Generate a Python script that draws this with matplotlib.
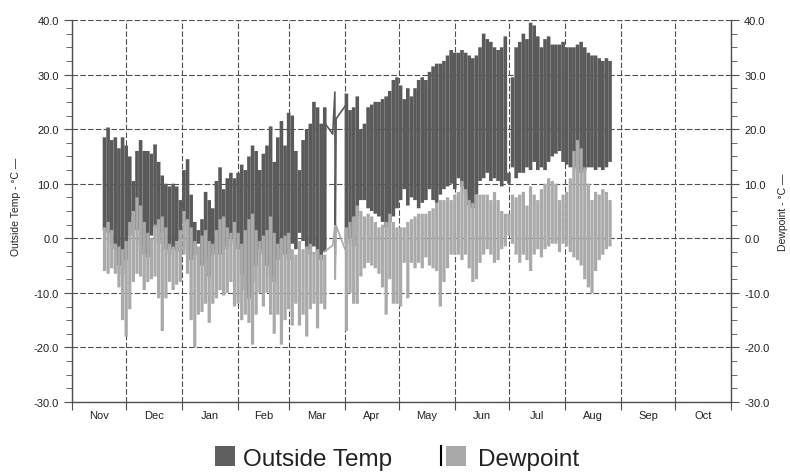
import numpy as np
import matplotlib
matplotlib.use("Agg")
import matplotlib.pyplot as plt
from matplotlib.patches import Rectangle
from matplotlib.lines import Line2D
from matplotlib.ticker import MultipleLocator, FormatStrFormatter

plt.rcParams['font.family'] = ['Liberation Sans', 'DejaVu Sans']

# x = days since 1 Nov, one min/max reading every 2 days
months = ["Nov", "Dec", "Jan", "Feb", "Mar", "Apr", "May", "Jun", "Jul", "Aug", "Sep", "Oct"]
month_len = [30, 31, 31, 28, 31, 30, 31, 30, 31, 31, 30, 31]
days = np.arange(17, 298, 2)

nan = np.nan
temp_max = [18.5, 20.3, 18.0, 18.5, 16.5, 18.5, 17.0, 15.0, 10.5, 16.0,
            18.0, 16.0, 16.0, 15.5, 17.2, 14.0, 11.5, 10.0, 9.5, 10.0,
            9.5, 7.0, 12.5, 14.5, 8.0, 3.0, 1.5, 3.5, 8.5, 7.0,
            5.5, 10.5, 13.0, 9.0, 11.0, 12.0,
            11, 12, 13.5, 12.5, 15, 17, 16, 12.5, 15.5, 17,
            20.5, 14, 18.5, 21.5, 17, 23, 22.5, 16, 12.5, 18,
            20, 21, 25, 24, 21, 24,
            nan, nan, nan, nan, nan,
            26.5, 23.5, 24,
            26, 20, 21, 24, 24.5, 25, 25, 25.5, 26, 27,
            29, 29.5, 28, 25.5, 27.5, 26, 27.5, 29, 29.5, 29,
            30.5, 31.5, 32, 32, 32.5, 33.5, 34.5, 34, 34, 34.5,
            34, 33.5, 33, 33.5, 35, 37.5,
            36.5, 36, 35, 34.5, 35, 37, 12, 29.5, 35, 36,
            37.5, 36.5, 39.5, 39, 37, 35, 36.5, 37, 35.5, 35.5,
            35.5, 36, 35, 35, 35, 35.5, 36, 35, 34, 33.5,
            33.5, 33, 32.5, 33, 32.5]
temp_min = [1.5, 1.0, -1.0, -2.0, -5.0, -6.5, -4.0, 0.5, 4.0, 1.5,
            -1.5, -3.0, -3.5, 0.5, 2.0, -1.0, 1.0, -2.0, -3.0, -2.0,
            -2.5, 0.0, 3.0, -2.0, -4.0, -3.0, -1.0, -5.0, -3.5, -7.0,
            -3.0, -2.0, -3.0, -2.0, -1.5, 0.0,
            -1, -2, -6.5, -9.5, -11, -8, -5, -2, -3, -5,
            -7, -8, -4, -2, -3, -4, -1, -2, 1, -0.5,
            -2, -3, -1.5, -3, -4, -2.5,
            nan, nan, nan, nan, nan,
            -1, 0, -1.5,
            4, 7, 7, 5.5, 5, 4.5, 4, 3, 2, 3,
            4, 5.5, 7, 9, 6, 7.5, 7, 5.5, 6.5, 7,
            9, 7, 6.5, 8, 9, 9.5, 10, 9, 11, 9.5,
            8, 6, 5.5, 8, 10.5, 11,
            12, 10.5, 11, 10.5, 9.5, 10.5, 10, 13, 11, 12,
            12, 13, 12.5, 14, 12.5, 13, 12.5, 14, 15, 15.5,
            16, 14, 13.5, 13, 13, 12.5, 12, 12.5, 13, 13,
            12.5, 13, 12.5, 13, 14]
dew_max = [2.0, 3.0, 1.5, -1.0, -1.5, -2.0, -0.5, 3.0, 5.0, 7.5,
           6.0, 3.0, 1.0, 0.0, 2.5, 3.5, 4.0, 2.0, -1.0, -1.5,
           -0.5, 1.5, 5.0, 3.5, 2.0, -0.5, -1.5, 0.5, 1.5, -0.5,
           -1.0, 1.5, 3.5, 4.0, 2.0, 1.0,
           3, 1, -1, 1.5, 3.5, 4.5, 1.5, -0.5, 0.5, 1.5,
           4, 1, -1, 0, 0.5, 1, -2, -3, -0.5, -2,
           -1.5, -1, -2.5, -2, -3, -3,
           nan, nan, nan, nan, nan,
           2, 3, 4,
           6, 5, 4, 4.5, 4, 3, 2, 2.5, 3, 4.5,
           3, 2, 2, 2, 3, 3.5, 4, 4.5, 4.5, 4.5,
           5, 5.5, 6.5, 7, 7, 7.5, 7, 8, 8.5, 10.5,
           9, 7, 6.5, 8, 8, 8,
           8, 7, 8.5, 7, 5, 4.5, 4.5, 8, 7.5, 8,
           8.5, 6, 9.5, 8, 7, 9, 10, 11, 10.5, 10,
           7, 8, 8.5, 11, 16, 18, 16.5, 13, 10, 7,
           8.5, 8, 9, 8.5, 7]
dew_min = [-6.0, -6.5, -5.5, -6.5, -9.0, -15.0, -18.0, -13.0, -8.0, -6.5,
           -7.0, -9.5, -8.0, -7.5, -7.0, -11.0, -17.0, -11.0, -8.0, -9.5,
           -8.5, -8.0, -3.0, -6.5, -15.0, -20.0, -14.0, -13.5, -12.0, -15.5,
           -12.0, -11.0, -9.5, -10.5, -10.0, -8.0,
           -12.5, -12, -15, -14, -15.5, -19.5, -14, -10, -12.5, -10,
           -14, -17.5, -14, -19.5, -15, -13, -16, -12, -16, -14,
           -18, -13, -12, -16.5, -12, -13,
           nan, nan, nan, nan, nan,
           -17, -10, -12,
           -12, -7, -5.5, -4.5, -5, -5.5, -6.5, -9, -14, -7.5,
           -12, -12, -12.5, -4.5, -11, -4.5, -5.5, -4.5, -5.5, -3.5,
           -5, -5.5, -6, -12.5, -8, -5.5, -3, -3, -3, -4,
           -3, -5.5, -8, -7.5, -4.5, -3,
           -2, -3, -4.5, -4, -2, -1.5, 0.5, -1, -3, -4.5,
           -3, -4, -6, -3, -2, -3.5, -2, -1.5, -1, -1,
           -2.5, -1, -1.5, -2.5, -3.5, -4, -5, -7.5, -9, -10,
           -6, -4, -3, -2, -1.5]

# readings across the mid-March outage
gap_days = [139.6, 144.4, 145.6, 145.8, 146.3, 151.2]
gap_temp = [21.3, 19.1, 26.8, -3.0, 21.9, 24.2]
gap_dew = [-2.5, -1.3, 2.3, -7.5, 2.3, -2.0]

TEMP_COLOR = "#5a5a5a"
DEW_COLOR = "#aaaaaa"
GRID_COLOR = "#505050"
TEXT_COLOR = "#222222"

fig = plt.figure(figsize=(7.9, 4.77), dpi=100)
ax = fig.add_axes([72 / 790, 1 - 403 / 477, 659 / 790, 382 / 477])

tmax, tmin = np.array(temp_max), np.array(temp_min)
dmax, dmin = np.array(dew_max), np.array(dew_min)

# min-max columns; the dewpoint ones are a bit narrower so temp shows through
tbars = ax.bar(days, tmax - tmin, bottom=tmin, width=2.0, color=TEMP_COLOR,
               linewidth=0, align="edge", zorder=3)
ax.plot(gap_days, gap_temp, color=TEMP_COLOR, lw=1.2, zorder=3)
dbars = ax.bar(days + 0.1, dmax - dmin, bottom=dmin, width=1.8, color=DEW_COLOR,
               linewidth=0, align="edge", zorder=4)
ax.plot(gap_days, gap_dew, color=DEW_COLOR, lw=1.2, zorder=4)
for b in list(tbars) + list(dbars):
    b.set_snap(False)

bounds = np.concatenate([[0], np.cumsum(month_len)])
centers = (bounds[:-1] + bounds[1:]) / 2
ax.set_xlim(0, 365)
ax.set_ylim(-30, 40)
ax.set_xticks(bounds)
ax.set_xticklabels([])
ax.set_xticks(centers, minor=True)
ax.set_xticklabels(months, minor=True)
ax.tick_params(axis="x", which="major", direction="out", length=6, color=GRID_COLOR)
ax.tick_params(axis="x", which="minor", length=0, labelsize=8, pad=6, labelcolor=TEXT_COLOR)

ax.yaxis.set_major_locator(MultipleLocator(10))
ax.yaxis.set_minor_locator(MultipleLocator(2.5))
ax.yaxis.set_major_formatter(FormatStrFormatter("%.1f"))
ax.tick_params(axis="y", which="both", direction="out", left=True, right=True,
               labelleft=True, labelright=True, color=GRID_COLOR,
               labelsize=8, labelcolor=TEXT_COLOR)
ax.tick_params(axis="y", which="major", length=6)
ax.tick_params(axis="y", which="minor", length=4)

ax.grid(True, which="major", color=GRID_COLOR, linestyle=(0, (5, 2)), lw=0.8)
ax.set_axisbelow(True)
for side in ["left", "right", "bottom"]:
    ax.spines[side].set_color(GRID_COLOR)
    ax.spines[side].set_linewidth(1.0)
ax.spines["top"].set_visible(False)

fig.text(16 / 790, 1 - 207 / 477, "Outside Temp - °C —", rotation=90,
         ha="center", va="center", fontsize=7.5, color=TEXT_COLOR)
fig.text(783 / 790, 1 - 212 / 477, "Dewpoint - °C —", rotation=90,
         ha="center", va="center", fontsize=7.5, color=TEXT_COLOR)

# legend
fig.patches.append(Rectangle((215 / 790, 1 - 467 / 477), 20 / 790, 20 / 477,
                             transform=fig.transFigure, facecolor="#5f5f5f",
                             edgecolor="none"))
fig.text(243 / 790, 1 - 466 / 477, "Outside Temp", fontsize=17.5,
         color=TEXT_COLOR, va="baseline")
fig.lines.append(Line2D([441 / 790, 441 / 790], [1 - 466 / 477, 1 - 447 / 477],
                        transform=fig.transFigure, color="black", lw=1.5))
fig.patches.append(Rectangle((446 / 790, 1 - 467 / 477), 20 / 790, 20 / 477,
                             transform=fig.transFigure, facecolor="#a9a9a9",
                             edgecolor="none"))
fig.text(478 / 790, 1 - 466 / 477, "Dewpoint", fontsize=17.5,
         color=TEXT_COLOR, va="baseline")

fig.savefig("out.png", dpi=100)
